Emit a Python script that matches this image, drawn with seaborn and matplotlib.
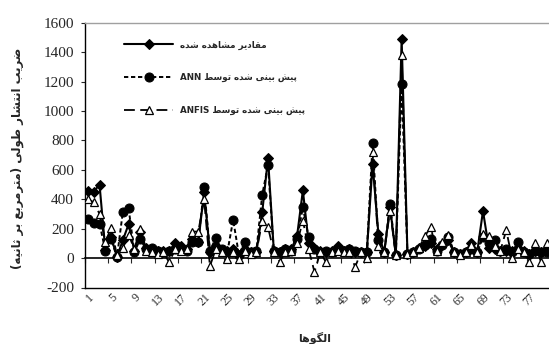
import re
import numpy as np
import pandas as pd
import matplotlib
matplotlib.use("Agg")
import matplotlib.pyplot as plt
import seaborn as sns

# ---------------- data ----------------
categories = list(range(1, 81))
observed = [455, 450, 500, 55, 140, 10, 120, 230, 50, 180,
            70, 60, 50, 45, 45, 100, 80, 60, 130, 110,
            450, 40, 80, 50, 50, 60, 20, 60, 40, 40,
            310, 680, 50, 40, 60, 60, 150, 460, 100, 70,
            50, 40, 50, 80, 50, 60, 40, 40, 40, 640,
            165, 40, 350, 20, 1490, 30, 40, 70, 80, 100,
            60, 90, 120, 40, 30, 40, 100, 40, 320, 70,
            60, 50, 50, 50, 70, 50, 30, 50, 40, 60]
ann = [265, 240, 235, 50, 130, 5, 310, 340, 40, 130,
       60, 70, 50, 40, 50, 60, 60, 50, 110, 110,
       480, 50, 135, 60, 40, 260, 20, 110, 40, 50,
       430, 630, 50, 40, 60, 50, 130, 345, 140, 60,
       40, 50, 40, 60, 50, 60, 50, 40, 40, 780,
       120, 40, 370, 20, 1180, 30, 40, 60, 90, 130,
       50, 90, 140, 40, 30, 40, 60, 40, 140, 100,
       125, 50, 60, 40, 110, 40, 30, 50, 40, 40]
anfis = [400, 380, 300, 110, 205, 20, 70, 160, 60, 200,
         50, 40, 30, 40, -30, 60, 50, 60, 180, 180,
         400, -55, 60, 40, -5, 40, -5, 50, 30, 40,
         250, 210, 40, -25, 40, 50, 100, 255, 60, -95,
         40, -30, 40, 50, 40, 40, -60, 40, 0, 720,
         80, 40, 320, 20, 1380, 30, 40, 70, 150, 210,
         50, 110, 160, 40, 20, 40, 90, 40, 165, 150,
         80, 50, 190, 0, 60, 40, -30, 100, -30, 100]
x_tick_labels = [str(v) for v in range(1, 78, 4)]
y_ticks = list(range(-200, 1601, 200))

label_obs = "مقادیر مشاهده شده"
label_ann = "پیش بینی شده توسط ANN"
label_anfis = "پیش بینی شده توسط ANFIS"
y_title = "ضریب انتشار طولی (مترمربع بر ثانیه)"
x_title = "الگوها"

# ---------- minimal Arabic/Persian shaping (presentation forms + RTL order) ----------
JOIN = {
    'ا': (0xFE8D, 0xFE8E, None, None), 'ب': (0xFE8F, 0xFE90, 0xFE91, 0xFE92),
    'ت': (0xFE95, 0xFE96, 0xFE97, 0xFE98), 'ث': (0xFE99, 0xFE9A, 0xFE9B, 0xFE9C),
    'ج': (0xFE9D, 0xFE9E, 0xFE9F, 0xFEA0), 'ح': (0xFEA1, 0xFEA2, 0xFEA3, 0xFEA4),
    'خ': (0xFEA5, 0xFEA6, 0xFEA7, 0xFEA8), 'د': (0xFEA9, 0xFEAA, None, None),
    'ذ': (0xFEAB, 0xFEAC, None, None), 'ر': (0xFEAD, 0xFEAE, None, None),
    'ز': (0xFEAF, 0xFEB0, None, None), 'س': (0xFEB1, 0xFEB2, 0xFEB3, 0xFEB4),
    'ش': (0xFEB5, 0xFEB6, 0xFEB7, 0xFEB8), 'ص': (0xFEB9, 0xFEBA, 0xFEBB, 0xFEBC),
    'ض': (0xFEBD, 0xFEBE, 0xFEBF, 0xFEC0), 'ط': (0xFEC1, 0xFEC2, 0xFEC3, 0xFEC4),
    'ظ': (0xFEC5, 0xFEC6, 0xFEC7, 0xFEC8), 'ع': (0xFEC9, 0xFECA, 0xFECB, 0xFECC),
    'غ': (0xFECD, 0xFECE, 0xFECF, 0xFED0), 'ف': (0xFED1, 0xFED2, 0xFED3, 0xFED4),
    'ق': (0xFED5, 0xFED6, 0xFED7, 0xFED8), 'ل': (0xFEDD, 0xFEDE, 0xFEDF, 0xFEE0),
    'م': (0xFEE1, 0xFEE2, 0xFEE3, 0xFEE4), 'ن': (0xFEE5, 0xFEE6, 0xFEE7, 0xFEE8),
    'ه': (0xFEE9, 0xFEEA, 0xFEEB, 0xFEEC), 'و': (0xFEED, 0xFEEE, None, None),
    'ی': (0xFBFC, 0xFBFD, 0xFBFE, 0xFBFF), 'پ': (0xFB56, 0xFB57, 0xFB58, 0xFB59),
    'گ': (0xFB92, 0xFB93, 0xFB94, 0xFB95), 'ک': (0xFB8E, 0xFB8F, 0xFB90, 0xFB91),
}


def rtl(s):
    out = []
    for k, c in enumerate(s):
        if c not in JOIN:
            out.append(c)
            continue
        prev = s[k - 1] if k > 0 else None
        nxt = s[k + 1] if k + 1 < len(s) else None
        jp = prev in JOIN and JOIN[prev][2] is not None
        jn = JOIN[c][2] is not None and nxt in JOIN
        f = JOIN[c]
        cp = f[3] if (jp and jn) else f[1] if jp else f[2] if jn else f[0]
        out.append(chr(cp))
    vis = ''.join(out)[::-1]
    vis = re.sub(r'[A-Za-z0-9]+', lambda m: m.group(0)[::-1], vis)
    return vis.translate(str.maketrans('()', ')('))


# ---------------- figure ----------------
sns.set_style("white")
plt.rcParams['font.family'] = ['DejaVu Sans']

W, H = 549, 344
fig = plt.figure(figsize=(W / 100, H / 100), dpi=100)
ax_left, ax_right_px = 85, 549.8
ax_top_px, ax_bot_px = 22.7, 287.5
ax = fig.add_axes([ax_left / W, 1 - ax_bot_px / H,
                   (ax_right_px - ax_left) / W, (ax_bot_px - ax_top_px) / H])

df = pd.DataFrame({"cat": categories, "obs": observed, "ann": ann, "anfis": anfis})

sns.lineplot(data=df, x="cat", y="obs", ax=ax, color="black", lw=1.5,
             marker="D", markersize=5.5, markerfacecolor="black",
             markeredgecolor="black", label=rtl(label_obs), zorder=3)
sns.lineplot(data=df, x="cat", y="ann", ax=ax, color="black", lw=1.4,
             linestyle=(0, (2.2, 1.4)), marker="o", markersize=6.5,
             markerfacecolor="black", markeredgecolor="black",
             label=rtl(label_ann), zorder=4)
sns.lineplot(data=df, x="cat", y="anfis", ax=ax, color="black", lw=1.3,
             linestyle=(0, (6, 3)), marker="^", markersize=6,
             markerfacecolor="white", markeredgecolor="black",
             markeredgewidth=0.9, label=rtl(label_anfis), zorder=5)

ax.set_xlim(0.5, 80.5)
ax.set_ylim(-200, 1600)
ax.set_yticks(y_ticks)
ax.set_yticklabels([str(v) for v in y_ticks], fontfamily="Liberation Serif", fontsize=11)
ax.set_xticks(list(range(1, 78, 4)))
ax.set_xticklabels(x_tick_labels, rotation=45, ha="right", rotation_mode="anchor",
                   fontfamily="Liberation Serif", fontsize=8.5)
ax.tick_params(axis="x", length=0, pad=3)
ax.tick_params(axis="y", direction="out", length=3, width=0.8, pad=5, left=True)
ax.set_xlabel("")
ax.set_ylabel("")
ax.grid(False)

for side in ("left", "bottom"):
    ax.spines[side].set_color("black")
    ax.spines[side].set_linewidth(1.0)
ax.spines["top"].set_color("#a0a0a0")
ax.spines["top"].set_linewidth(1.0)
ax.spines["right"].set_visible(False)

# category axis crossing at zero with its tick marks
zero_frac = (0 - (-200)) / (1600 - (-200))
sec = ax.secondary_xaxis(zero_frac)
sec.set_xticks(list(np.arange(0.5, 81, 4)))
sec.tick_params(axis="x", direction="out", length=3.5, width=0.8, labelbottom=False)
sec.spines["bottom"].set_color("black")
sec.spines["bottom"].set_linewidth(1.2)

# legend
leg = ax.legend(loc="upper left", bbox_to_anchor=(124 / W, 1 - 40.5 / H),
                bbox_transform=fig.transFigure, frameon=False,
                handlelength=5.6, handletextpad=0.8, labelspacing=2.7,
                borderpad=0, borderaxespad=0,
                prop={"family": "DejaVu Sans", "weight": "bold", "size": 6.3})

fig.text(17 / W, 1 - 158 / H, rtl(y_title), rotation=90, ha="center", va="center",
         fontsize=8.5, fontweight="bold", family="DejaVu Sans")
fig.text(315 / W, 1 - 338 / H, rtl(x_title), ha="center", va="center",
         fontsize=8, fontweight="bold", family="DejaVu Sans")

fig.savefig("out.png", dpi=100)
